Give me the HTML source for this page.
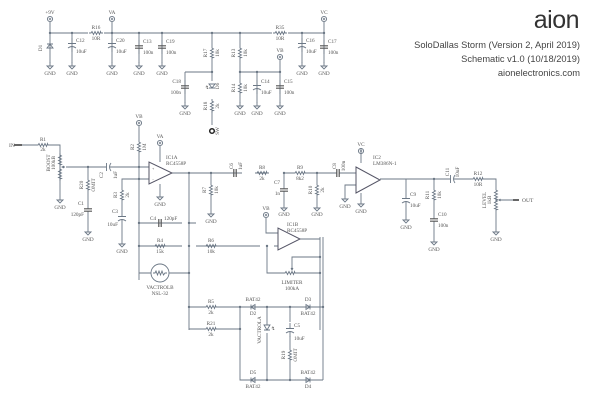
<!DOCTYPE html>
<html><head><meta charset="utf-8"><style>
html,body{margin:0;padding:0;background:#fff;width:600px;height:400px;overflow:hidden}
svg{display:block}
.w{stroke:#6b7785;stroke-width:0.9;fill:none}
.t{font-family:"Liberation Serif",serif;font-size:5.2px;fill:#555}
.d{fill:#6b7785}
</style></head><body>
<svg width="600" height="400" viewBox="0 0 600 400">
<defs>
<path id="rv" d="M0,-7 V-5 L1.5,-4 L-1.5,-2.5 L1.5,-1 L-1.5,0.5 L1.5,2 L-1.5,3.5 L1.5,4.5 L0,5 V7" class="w"/>
<path id="rh" d="M-7,0 H-5 L-4,-1.5 L-2.5,1.5 L-1,-1.5 L0.5,1.5 L2,-1.5 L3.5,1.5 L4.5,-1.5 L5,0 H7" class="w"/>
<g id="cv"><path d="M0,-7 V-1.2 M0,1.2 V7" class="w"/><path d="M-4,-1.2 H4 M-4,1.2 H4" stroke="#555" stroke-width="1.2"/></g>
<g id="ch"><path d="M-7,0 H-1.2 M1.2,0 H7" class="w"/><path d="M-1.2,-4 V4 M1.2,-4 V4" stroke="#555" stroke-width="1.2"/></g>
<g id="cev"><path d="M0,-7 V-1.5 M0,2 V7 M-4,-1.5 H4 M-4,3 Q0,0 4,3" class="w"/></g>
<g id="ceh"><path d="M-7,0 H-1.5 M2,0 H7 M-1.5,-4 V4 M3,-4 Q0,0 3,4" class="w"/></g>
<g id="g"><path d="M0,-4 V0 M-3,0 H3 L0,3 Z" class="w"/></g>
<g id="pw"><circle r="2.6" class="w"/><path d="M-1.2,0 H1.2 M0,-1.2 V1.2" class="w" stroke-width="0.6"/></g>
<g id="dh"><path d="M-6,0 H6 M-2,-2.5 V2.5 L2,0 Z M2,-2.5 V2.5" class="w"/></g>
<g id="dhr"><path d="M-6,0 H6 M2,-2.5 V2.5 L-2,0 Z M-2,-2.5 V2.5" class="w"/></g>
</defs>

<!-- title -->
<text x="579" y="28" text-anchor="end" style="font-family:'Liberation Sans',sans-serif;font-size:25px;fill:#333;letter-spacing:-0.5px">aion</text>
<g style="font-family:'Liberation Sans',sans-serif;font-size:9.3px;fill:#444" text-anchor="end">
<text x="580" y="48">SoloDallas Storm (Version 2, April 2019)</text>
<text x="580" y="62">Schematic v1.0 (10/18/2019)</text>
<text x="580" y="76">aionelectronics.com</text></g>

<!-- top power -->
<path class="w" d="M50,22 V63 M50,33 H89 M103,33 H273 M287,33 H324 V22 M112,22 V33 M72,33 V63 M112,33 V63 M139,33 V63 M162,33 V63 M302,33 V63 M324,33 V63 M212,33 V72 M240,33 V72 M185,72 H212 M185,72 V103 M212,72 V125 M240,72 H280 V60 M240,72 V103 M257,72 V103 M280,72 V103"/>
<use href="#pw" x="50" y="19"/><use href="#pw" x="112" y="19"/><use href="#pw" x="324" y="19"/><use href="#pw" x="280" y="57"/>
<text class="t" x="50" y="14" text-anchor="middle">+9V</text><text class="t" x="112" y="14" text-anchor="middle">VA</text><text class="t" x="324" y="14" text-anchor="middle">VC</text><text class="t" x="280" y="52" text-anchor="middle">VB</text>
<rect x="44" y="41" width="12" height="10" fill="#fff"/><path class="w" d="M50,41 V51 M47,48 H53 L50,44 Z M47,44 H53"/><text class="t" x="42" y="48" transform="rotate(-90 42 48)" text-anchor="middle">D1</text>
<use href="#cev" x="72" y="45"/><text class="t" x="76" y="42">C12</text><text class="t" x="76" y="53">10uF</text>
<rect x="88" y="30" width="16" height="6" fill="#fff"/><use href="#rh" x="96" y="33"/><text class="t" x="96" y="29" text-anchor="middle">R16</text><text class="t" x="96" y="40" text-anchor="middle">10R</text>
<use href="#cev" x="112" y="45"/><text class="t" x="116" y="42">C20</text><text class="t" x="116" y="53">10uF</text>
<use href="#cv" x="139" y="47"/><text class="t" x="143" y="43">C13</text><text class="t" x="143" y="54">100n</text>
<use href="#cv" x="162" y="47"/><text class="t" x="166" y="43">C19</text><text class="t" x="166" y="54">100n</text>
<rect x="209" y="46" width="6" height="14" fill="#fff"/><use href="#rv" x="212" y="53"/><text class="t" x="207" y="53" transform="rotate(-90 207 53)" text-anchor="middle">R17</text><text class="t" x="219" y="53" transform="rotate(-90 219 53)" text-anchor="middle">10k</text>
<rect x="237" y="46" width="6" height="14" fill="#fff"/><use href="#rv" x="240" y="53"/><text class="t" x="235" y="53" transform="rotate(-90 235 53)" text-anchor="middle">R13</text><text class="t" x="247" y="53" transform="rotate(-90 247 53)" text-anchor="middle">10k</text>
<rect x="272" y="30" width="16" height="6" fill="#fff"/><use href="#rh" x="280" y="33"/><text class="t" x="280" y="29" text-anchor="middle">R35</text><text class="t" x="280" y="40" text-anchor="middle">10R</text>
<use href="#cev" x="302" y="45"/><text class="t" x="306" y="42">C16</text><text class="t" x="306" y="53">10uF</text>
<use href="#cv" x="324" y="47"/><text class="t" x="328" y="43">C17</text><text class="t" x="328" y="54">100n</text>
<g><use href="#g" x="50" y="66"/><use href="#g" x="72" y="66"/><use href="#g" x="112" y="66"/><use href="#g" x="139" y="66"/><use href="#g" x="162" y="66"/><use href="#g" x="302" y="66"/><use href="#g" x="324" y="66"/>
<use href="#g" x="185" y="106"/><use href="#g" x="240" y="106"/><use href="#g" x="257" y="106"/><use href="#g" x="280" y="106"/></g>
<g class="t" text-anchor="middle"><text x="50" y="75">GND</text><text x="72" y="75">GND</text><text x="112" y="75">GND</text><text x="139" y="75">GND</text><text x="162" y="75">GND</text><text x="302" y="75">GND</text><text x="324" y="75">GND</text>
<text x="185" y="115">GND</text><text x="240" y="115">GND</text><text x="257" y="115">GND</text><text x="280" y="115">GND</text></g>
<use href="#cv" x="185" y="87"/><text class="t" x="181" y="83" text-anchor="end">C18</text><text class="t" x="181" y="94" text-anchor="end">100n</text>
<rect x="208" y="81" width="8" height="30" fill="#fff"/><path class="w" d="M209,84 H215 L212,88 Z M209,88 H215"/><text class="t" x="205" y="89">↯</text><text class="t" x="219" y="86" transform="rotate(-90 219 86)" text-anchor="middle">D6</text>
<use href="#rv" x="212" y="106"/><text class="t" x="207" y="106" transform="rotate(-90 207 106)" text-anchor="middle">R18</text><text class="t" x="219" y="106" transform="rotate(-90 219 106)" text-anchor="middle">2k</text>
<circle cx="212" cy="131" r="2.3" fill="none" stroke="#222" stroke-width="1.5"/><text class="t" x="219" y="131" transform="rotate(-90 219 131)" text-anchor="middle">SW</text>
<rect x="237" y="81" width="6" height="14" fill="#fff"/><use href="#rv" x="240" y="88"/><text class="t" x="235" y="88" transform="rotate(-90 235 88)" text-anchor="middle">R14</text><text class="t" x="247" y="88" transform="rotate(-90 247 88)" text-anchor="middle">10k</text>
<use href="#cev" x="257" y="87"/><text class="t" x="261" y="83">C14</text><text class="t" x="261" y="94">10uF</text>
<use href="#cv" x="280" y="87"/><text class="t" x="284" y="83">C15</text><text class="t" x="284" y="94">100n</text>

<!-- input stage -->
<path class="w" d="M22,145 H36 M50,145 H60 V153 M60,181 V196 M66,167 H101 M115,167 H149 M88,167 V178 M88,192 V203 M88,217 V228 M139,126 V140 M139,154 V280 M149,179 H122 V188 M122,202 V211 M122,225 V240 M160,146 V162 M160,184 V193 M172,173 H229 M189,173 V330 M211,173 V183 M211,197 V210"/>
<path d="M14,145 H22" stroke="#333" stroke-width="1.5"/><text class="t" x="9" y="147" style="font-size:5.5px">IN</text>
<use href="#rh" x="43" y="145"/><text class="t" x="43" y="141" text-anchor="middle">R1</text><text class="t" x="43" y="151" text-anchor="middle">2k</text>
<use href="#rv" x="60" y="160"/><path class="w" d="M60,153 V167 M60,167 V181 M65,167 H62 M64,166 L62,167 L64,168"/><use href="#rv" x="60" y="174"/>
<text class="t" x="50" y="163" transform="rotate(-90 50 163)" text-anchor="middle">BOOST</text><text class="t" x="55" y="163" transform="rotate(-90 55 163)" text-anchor="middle">100kB</text>
<use href="#g" x="60" y="200"/><text class="t" x="60" y="209" text-anchor="middle">GND</text>
<use href="#ceh" x="108" y="167"/><text class="t" x="103" y="175" transform="rotate(-90 103 175)" text-anchor="middle">C2</text><text class="t" x="117" y="175" transform="rotate(-90 117 175)" text-anchor="middle">1uF</text>
<use href="#rv" x="88" y="185"/><text class="t" x="83" y="185" transform="rotate(-90 83 185)" text-anchor="middle">R20</text><text class="t" x="95" y="185" transform="rotate(-90 95 185)" text-anchor="middle">OMIT</text>
<use href="#cv" x="88" y="210"/><text class="t" x="84" y="205" text-anchor="end">C1</text><text class="t" x="84" y="216" text-anchor="end">120pF</text>
<use href="#g" x="88" y="232"/><text class="t" x="88" y="241" text-anchor="middle">GND</text>
<use href="#pw" x="139" y="123"/><text class="t" x="139" y="118" text-anchor="middle">VB</text>
<use href="#rv" x="139" y="147"/><text class="t" x="134" y="147" transform="rotate(-90 134 147)" text-anchor="middle">R2</text><text class="t" x="146" y="147" transform="rotate(-90 146 147)" text-anchor="middle">1M</text>
<use href="#rv" x="122" y="195"/><text class="t" x="117" y="195" transform="rotate(-90 117 195)" text-anchor="middle">R3</text><text class="t" x="129" y="195" transform="rotate(-90 129 195)" text-anchor="middle">2k</text>
<use href="#cev" x="122" y="218"/><text class="t" x="118" y="213" text-anchor="end">C3</text><text class="t" x="118" y="226" text-anchor="end">10uF</text>
<use href="#g" x="122" y="244"/><text class="t" x="122" y="253" text-anchor="middle">GND</text>
<path d="M149,162 V184 L172,173 Z" fill="#fff" stroke="#556" stroke-width="1"/>
<text class="t" x="152" y="170" style="font-size:4px">+</text><text class="t" x="152" y="181" style="font-size:4px">−</text>
<use href="#pw" x="160" y="143"/><text class="t" x="160" y="138" text-anchor="middle">VA</text>
<text class="t" x="166" y="159">IC1A</text><text class="t" x="166" y="165">RC4558P</text>
<use href="#g" x="160" y="197"/><text class="t" x="160" y="206" text-anchor="middle">GND</text>
<use href="#rv" x="211" y="190"/><text class="t" x="206" y="190" transform="rotate(-90 206 190)" text-anchor="middle">R7</text><text class="t" x="218" y="190" transform="rotate(-90 218 190)" text-anchor="middle">10k</text>
<use href="#g" x="211" y="214"/><text class="t" x="211" y="223" text-anchor="middle">GND</text>
<path class="w" d="M139,223 H182 M196,223 H189 M139,246 H182 M196,246 H260 M274,246 H278 M139,273 H151 M169,273 H189 M267,246 V273 H283 M297,273 H320 M320,237 V330 M300,239 H320 M292,264 V257 H320 M266,218 V233 H278"/>
<use href="#ch" x="160" y="223"/><text class="t" x="150" y="220">C4</text><text class="t" x="164" y="220">120pF</text>
<use href="#rh" x="160" y="246"/><text class="t" x="160" y="242" text-anchor="middle">R4</text><text class="t" x="160" y="253" text-anchor="middle">15k</text>
<use href="#rh" x="211" y="246"/><text class="t" x="211" y="242" text-anchor="middle">R6</text><text class="t" x="211" y="253" text-anchor="middle">10k</text>
<circle cx="160" cy="273" r="9" class="w"/><path class="w" d="M153,273 H155 L156,271 L157.5,275 L159,271 L160.5,275 L162,271 L163.5,275 L165,273 H167"/>
<text class="t" x="160" y="289" text-anchor="middle">VACTROLB</text><text class="t" x="160" y="295" text-anchor="middle">NSL-32</text>
<use href="#pw" x="266" y="215"/><text class="t" x="266" y="210" text-anchor="middle">VB</text>
<path d="M278,228 V250 L300,239 Z" fill="#fff" stroke="#556" stroke-width="1"/>
<text class="t" x="287" y="226">IC1B</text><text class="t" x="287" y="232">RC4558P</text>
<use href="#rh" x="290" y="273"/><path class="w" d="M292,264 V270 M291,268 L292,270 L293,268"/>
<text class="t" x="292" y="284" text-anchor="middle">LIMITER</text><text class="t" x="292" y="290" text-anchor="middle">100kA</text>

<!-- tone / IC2 -->
<path class="w" d="M229,173 H241 M255,173 H269 M284,173 V183 M284,197 V204 M317,173 V183 M317,197 V204 M284,173 H293 M307,173 H331 M345,173 H356 M356,185 H345 V195 M361,148 V163 M361,193 V200 M380,179 H445 M459,179 H471 M485,179 H496 V188 M496,212 V228 M406,179 V193 M406,207 V216 M434,179 V188 M434,202 V213 M434,227 V238 M502,200 H513"/>
<use href="#ch" x="235" y="173"/><text class="t" x="233" y="166" transform="rotate(-90 233 166)" text-anchor="middle">C6</text><text class="t" x="242" y="166" transform="rotate(-90 242 166)" text-anchor="middle">1uF</text>
<use href="#rh" x="262" y="173"/><text class="t" x="262" y="169" text-anchor="middle">R8</text><text class="t" x="262" y="180" text-anchor="middle">2k</text>
<use href="#cv" x="284" y="190"/><text class="t" x="280" y="184" text-anchor="end">C7</text><text class="t" x="280" y="195" text-anchor="end">1n</text>
<use href="#g" x="284" y="208"/><text class="t" x="284" y="216" text-anchor="middle">GND</text>
<use href="#rh" x="300" y="173"/><text class="t" x="300" y="169" text-anchor="middle">R9</text><text class="t" x="300" y="180" text-anchor="middle">8k2</text>
<use href="#rv" x="317" y="190"/><text class="t" x="312" y="190" transform="rotate(-90 312 190)" text-anchor="middle">R10</text><text class="t" x="324" y="190" transform="rotate(-90 324 190)" text-anchor="middle">2k</text>
<use href="#g" x="317" y="208"/><text class="t" x="317" y="216" text-anchor="middle">GND</text>
<use href="#ch" x="338" y="173"/><text class="t" x="336" y="166" transform="rotate(-90 336 166)" text-anchor="middle">C8</text><text class="t" x="345" y="166" transform="rotate(-90 345 166)" text-anchor="middle">100n</text>
<path d="M356,167 V193 L380,180 Z" fill="#fff" stroke="#556" stroke-width="1"/>
<use href="#pw" x="361" y="151"/><text class="t" x="361" y="146" text-anchor="middle">VC</text>
<text class="t" x="373" y="159">IC2</text><text class="t" x="373" y="165">LM386N-1</text>
<use href="#g" x="345" y="199"/><text class="t" x="345" y="208" text-anchor="middle">GND</text>
<use href="#g" x="361" y="204"/><text class="t" x="361" y="213" text-anchor="middle">GND</text>
<use href="#cev" x="406" y="200"/><text class="t" x="410" y="196">C9</text><text class="t" x="410" y="207">10uF</text>
<use href="#g" x="406" y="220"/><text class="t" x="406" y="229" text-anchor="middle">GND</text>
<use href="#rv" x="434" y="195"/><text class="t" x="429" y="195" transform="rotate(-90 429 195)" text-anchor="middle">R11</text><text class="t" x="441" y="195" transform="rotate(-90 441 195)" text-anchor="middle">10k</text>
<use href="#cv" x="434" y="220"/><text class="t" x="438" y="216">C10</text><text class="t" x="438" y="227">100n</text>
<use href="#g" x="434" y="242"/><text class="t" x="434" y="251" text-anchor="middle">GND</text>
<use href="#ceh" x="452" y="179"/><text class="t" x="449" y="172" transform="rotate(-90 449 172)" text-anchor="middle">C11</text><text class="t" x="459" y="172" transform="rotate(-90 459 172)" text-anchor="middle">10uF</text>
<use href="#rh" x="478" y="179"/><text class="t" x="478" y="175" text-anchor="middle">R12</text><text class="t" x="478" y="186" text-anchor="middle">10R</text>
<use href="#rv" x="496" y="195"/><use href="#rv" x="496" y="205"/><path class="w" d="M502,200 H499 M500.5,199 L499,200 L500.5,201"/>
<text class="t" x="486" y="200" transform="rotate(-90 486 200)" text-anchor="middle">LEVEL</text><text class="t" x="491" y="200" transform="rotate(-90 491 200)" text-anchor="middle">1kB</text>
<path d="M513,200 H519" stroke="#333" stroke-width="1.5"/><text class="t" x="522" y="202" style="font-size:5.5px">OUT</text>
<use href="#g" x="496" y="232"/><text class="t" x="496" y="241" text-anchor="middle">GND</text>

<!-- bottom rectifier -->
<path class="w" d="M189,307 H204 M218,307 H247 M259,307 H302 M314,307 H323 M323,237 V380 M189,329 H204 M218,329 H240 M240,307 V380 H247 M259,380 H302 M314,380 H323 M267,307 V380 M290,307 V322 M290,336 V348 M290,362 V380"/>
<use href="#rh" x="211" y="307"/><text class="t" x="211" y="303" text-anchor="middle">R5</text><text class="t" x="211" y="314" text-anchor="middle">2k</text>
<use href="#rh" x="211" y="329"/><text class="t" x="211" y="325" text-anchor="middle">R21</text><text class="t" x="211" y="336" text-anchor="middle">2k</text>
<use href="#dhr" x="253" y="307"/><text class="t" x="253" y="301" text-anchor="middle">BAT42</text><text class="t" x="253" y="315" text-anchor="middle">D2</text>
<use href="#dh" x="308" y="307"/><text class="t" x="308" y="301" text-anchor="middle">D3</text><text class="t" x="308" y="315" text-anchor="middle">BAT42</text>
<use href="#dhr" x="253" y="380"/><text class="t" x="253" y="374" text-anchor="middle">D5</text><text class="t" x="253" y="388" text-anchor="middle">BAT42</text>
<use href="#dh" x="308" y="380"/><text class="t" x="308" y="374" text-anchor="middle">BAT42</text><text class="t" x="308" y="388" text-anchor="middle">D4</text>
<rect x="264" y="325" width="6" height="8" fill="#fff"/><path class="w" d="M264,325 H270 L267,330 Z M264,330 H270"/><text class="t" x="271" y="330">↯</text>
<text class="t" x="261" y="330" transform="rotate(-90 261 330)" text-anchor="middle">VACTROLA</text>
<use href="#cev" x="290" y="330"/><text class="t" x="294" y="327">C5</text><text class="t" x="294" y="340">10uF</text>
<use href="#rv" x="290" y="355"/><text class="t" x="285" y="355" transform="rotate(-90 285 355)" text-anchor="middle">R19</text><text class="t" x="297" y="355" transform="rotate(-90 297 355)" text-anchor="middle">OMIT</text>

<!-- junction dots -->
<g class="d">
<circle cx="50" cy="33" r="1.2"/><circle cx="72" cy="33" r="1.2"/><circle cx="112" cy="33" r="1.2"/><circle cx="139" cy="33" r="1.2"/><circle cx="162" cy="33" r="1.2"/><circle cx="212" cy="33" r="1.2"/><circle cx="240" cy="33" r="1.2"/><circle cx="302" cy="33" r="1.2"/><circle cx="324" cy="33" r="1.2"/>
<circle cx="212" cy="72" r="1.2"/><circle cx="240" cy="72" r="1.2"/><circle cx="257" cy="72" r="1.2"/><circle cx="280" cy="72" r="1.2"/>
<circle cx="88" cy="167" r="1.2"/><circle cx="139" cy="167" r="1.2"/><circle cx="139" cy="179" r="1.2"/><circle cx="189" cy="173" r="1.2"/><circle cx="211" cy="173" r="1.2"/><circle cx="284" cy="173" r="1.2"/><circle cx="317" cy="173" r="1.2"/><circle cx="434" cy="179" r="1.2"/>
<circle cx="139" cy="223" r="1.2"/><circle cx="189" cy="223" r="1.2"/><circle cx="139" cy="246" r="1.2"/><circle cx="189" cy="246" r="1.2"/><circle cx="189" cy="273" r="1.2"/><circle cx="267" cy="246" r="1.2"/><circle cx="320" cy="257" r="1.2"/><circle cx="320" cy="273" r="1.2"/>
<circle cx="189" cy="307" r="1.2"/><circle cx="240" cy="307" r="1.2"/><circle cx="240" cy="329" r="1.2"/><circle cx="267" cy="307" r="1.2"/><circle cx="290" cy="307" r="1.2"/><circle cx="323" cy="307" r="1.2"/><circle cx="267" cy="380" r="1.2"/><circle cx="290" cy="380" r="1.2"/>
</g>
</svg>
</body></html>
